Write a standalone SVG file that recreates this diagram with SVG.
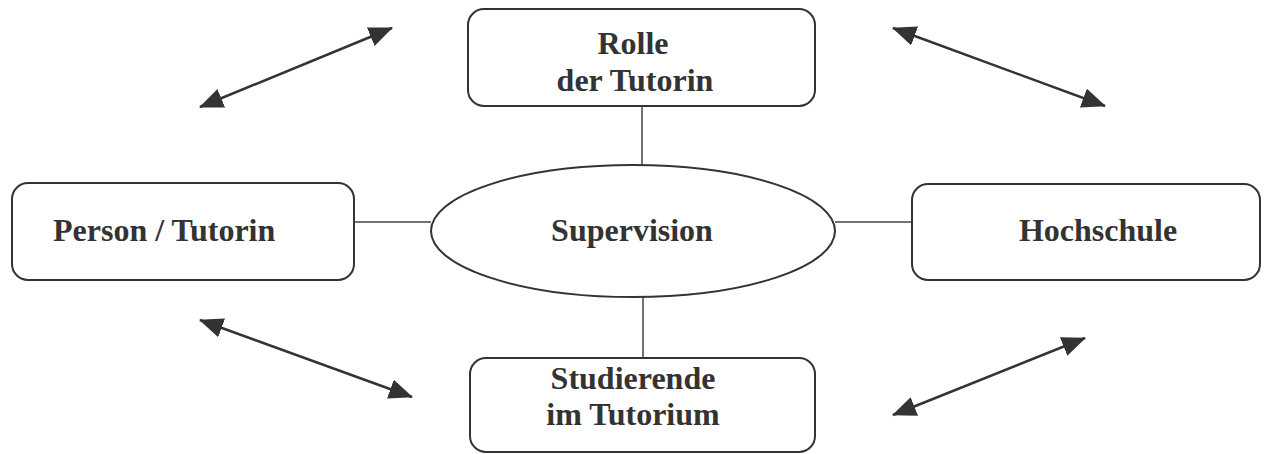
<svg xmlns="http://www.w3.org/2000/svg" width="1264" height="454" viewBox="0 0 1264 454">
<style>
.box{fill:#fff;stroke:#333;stroke-width:2}
.lbl{font-family:"Liberation Serif","Times New Roman",serif;font-weight:bold;font-size:32px;fill:#333}
.conn{stroke:#444;stroke-width:1.5;fill:none}
.arr{stroke:#333;stroke-width:2.5;fill:none;marker-start:url(#ah);marker-end:url(#ah)}
</style>
<defs>
<marker id="ah" markerUnits="userSpaceOnUse" markerWidth="24" markerHeight="20" viewBox="0 0 24 20" refX="23" refY="10" orient="auto-start-reverse">
<path d="M0,0 L24,10 L0,20 z" fill="#333"/>
</marker>
</defs>
<rect width="1264" height="454" fill="#fff"/>
<g id="connectors">
<line class="conn" x1="642" y1="106" x2="642" y2="165"/>
<line class="conn" x1="643" y1="297" x2="643" y2="358"/>
<line class="conn" x1="354" y1="222" x2="431" y2="222"/>
<line class="conn" x1="835" y1="222" x2="912" y2="222"/>
<line class="arr" x1="200" y1="107" x2="392" y2="28"/>
<line class="arr" x1="893" y1="28" x2="1105" y2="106"/>
<line class="arr" x1="200" y1="320" x2="412" y2="397"/>
<line class="arr" x1="893" y1="415" x2="1085" y2="338"/>
</g>
<g id="rolle">
<rect class="box" x="468" y="9" width="347" height="97" rx="16"/>
<text class="lbl" x="633" y="54" text-anchor="middle">Rolle</text>
<text class="lbl" x="635" y="91" text-anchor="middle">der Tutorin</text>
</g>
<g id="person">
<rect class="box" x="12" y="183" width="342" height="97" rx="16"/>
<text class="lbl" x="53" y="241">Person / Tutorin</text>
</g>
<g id="supervision">
<ellipse class="box" cx="633" cy="231" rx="202" ry="66"/>
<text class="lbl" x="632" y="241" text-anchor="middle">Supervision</text>
</g>
<g id="hochschule">
<rect class="box" x="912" y="184" width="348" height="96" rx="16"/>
<text class="lbl" x="1098" y="241" text-anchor="middle">Hochschule</text>
</g>
<g id="studierende">
<rect class="box" x="470" y="358" width="345" height="94" rx="16"/>
<text class="lbl" x="633" y="389" text-anchor="middle">Studierende</text>
<text class="lbl" x="633" y="425" text-anchor="middle">im Tutorium</text>
</g>
</svg>
